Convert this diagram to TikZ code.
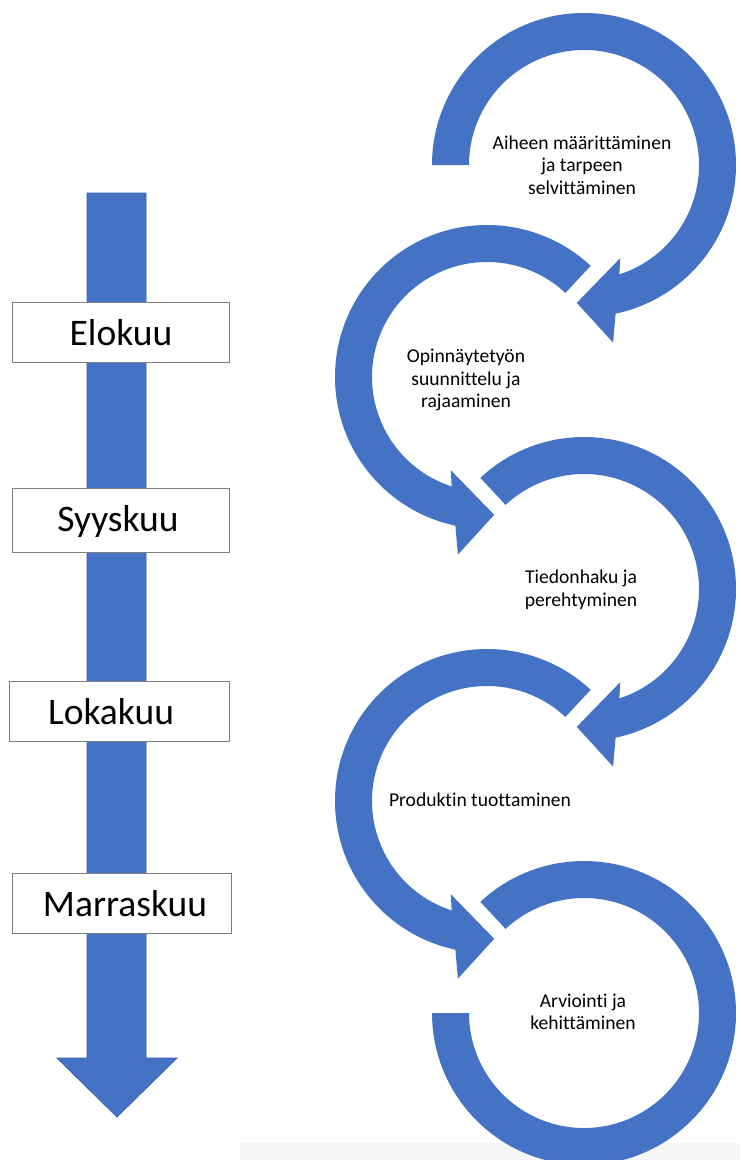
\documentclass[tikz,border=0pt]{standalone}
\usepackage{fontspec}
\setmainfont{Carlito}[Ligatures=NoCommon]
\definecolor{ablue}{HTML}{4472C4}
\definecolor{aedge}{HTML}{3A62AD}
\definecolor{boxgray}{HTML}{7F7F7F}
\definecolor{faint}{HTML}{F6F6F6}
\newcommand\ringcw[3]{%
  \fill[ablue, shift={(#1,#2)}] (#3:152pt) arc[start angle=#3, end angle=-78, radius=152pt]
    -- (-80.7:180pt) -- (-93:138pt) -- (-68.8:100pt) -- (-72.1:115pt)
    arc[start angle=-72.1, end angle=#3, radius=115pt] -- cycle;}
\newcommand\ringccw[3]{%
  \fill[ablue, shift={(#1,#2)}] (#3:152pt) arc[start angle=#3, end angle=258, radius=152pt]
    -- (260.7:180pt) -- (273:138pt) -- (248.8:100pt) -- (252.1:115pt)
    arc[start angle=252.1, end angle=#3, radius=115pt] -- cycle;}
\begin{document}
\begin{tikzpicture}[x=1pt,y=1pt,
  monthbox/.style={draw=boxgray, line width=1pt, fill=white, inner sep=0pt},
  monthtext/.style={font=\fontsize{37.5}{42}\selectfont, inner sep=0pt},
  steptext/.style={font=\fontsize{19.6}{22.5}\selectfont, align=center, inner sep=0pt}]
\clip (0,0) rectangle (740,-1160);
\fill[white] (0,0) rectangle (740,-1160);
\fill[faint] (240,-1143) rectangle (740,-1160);
% timeline arrow
\filldraw[fill=ablue, draw=aedge, line width=0.8pt]
  (87,-193) -- (146,-193) -- (146,-1058) -- (177,-1058) -- (117,-1117)
  -- (57,-1058) -- (87,-1058) -- cycle;
% month boxes
\node[monthbox, minimum width=217pt, minimum height=60pt] (b1) at (120.5,-332) {};
\node[monthbox, minimum width=217pt, minimum height=64pt] (b2) at (120.5,-520) {};
\node[monthbox, minimum width=220pt, minimum height=60pt] (b3) at (119,-711) {};
\node[monthbox, minimum width=219pt, minimum height=60pt] (b4) at (121.5,-903) {};
\node[monthtext] (t1) at (121,-333) {Elokuu};
\node[monthtext] (t2) at (118,-521) {Syyskuu};
\node[monthtext] (t3) at (111,-712) {Lokakuu};
\node[monthtext] (t4) at (125,-904) {Marraskuu};
% circular arrows
\ringcw{584}{-165}{180}
\ringccw{487}{-377}{47}
\ringcw{584}{-589}{133}
\ringccw{487}{-801}{47}
\fill[ablue, shift={(584,-1013)}] (133:152pt) arc[start angle=133, end angle=-180, radius=152pt]
  -- (180:115pt) arc[start angle=-180, end angle=133, radius=115pt] -- cycle;
% step texts
\node[steptext] (s1) at (582,-165) {Aiheen määrittäminen\\ja tarpeen\\selvittäminen};
\node[steptext] (s2) at (466,-380) {Opinnäytetyön\\suunnittelu ja\\rajaaminen};
\node[steptext] (s3) at (581,-590) {Tiedonhaku ja\\perehtyminen};
\node[steptext] (s4) at (480,-800) {Produktin tuottaminen};
\node[steptext] (s5) at (583,-1012) {Arviointi ja\\kehittäminen};
\end{tikzpicture}
\end{document}
